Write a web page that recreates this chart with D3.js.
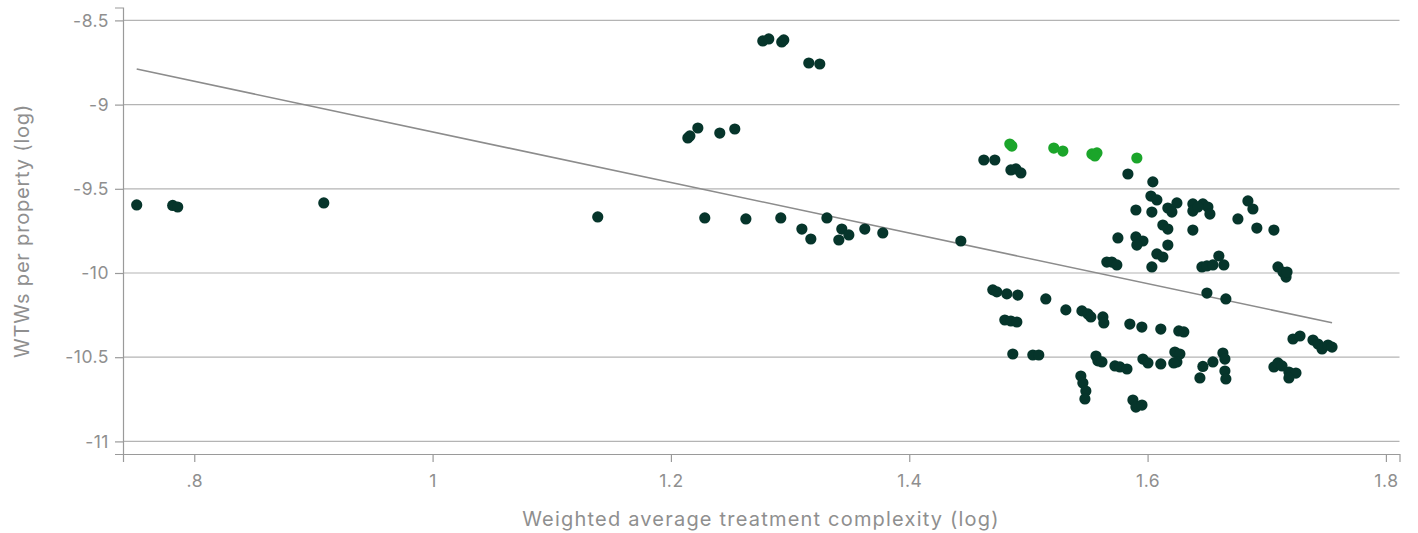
<!DOCTYPE html>
<html>
<head>
<meta charset="utf-8">
<script src="https://cdn.jsdelivr.net/npm/d3@7/dist/d3.min.js"></script>
<style>
  html, body { margin: 0; padding: 0; background: #ffffff; }
  svg { display: block; }
  text { font-family: "Inter", "Lato", "DejaVu Sans", sans-serif; fill: #8f8f8f; }
</style>
</head>
<body>
<svg id="chart" width="1418" height="533"></svg>
<script>
// Weighted average treatment complexity (log) per water treatment works group
const complexity = [
  0.7517, 0.7819, 0.7861, 0.9087, 1.1386,
  1.2771, 1.2821, 1.2930, 1.2947, 1.3157, 1.3249,
  1.2142, 1.2159, 1.2226, 1.2410, 1.2536,
  1.2284, 1.2629, 1.2922, 1.3099, 1.3174, 1.3309, 1.3434, 1.3409, 1.3493, 1.3627, 1.3778, 1.4433,
  1.4626, 1.4718, 1.4853, 1.4895, 1.4937,
  1.5835, 1.6044, 1.6028, 1.6078, 1.5902, 1.6036, 1.6170, 1.6246, 1.6204, 1.6380, 1.6380, 1.6464,
  1.6506, 1.6523, 1.6422, 1.6842, 1.6884, 1.6758, 1.6917, 1.7060, 1.6128, 1.6170, 1.6380,
  1.5751, 1.5902, 1.5961, 1.5910, 1.6170, 1.6078, 1.6128, 1.6598, 1.6640, 1.6036,
  1.5658, 1.5700, 1.5742, 1.6456, 1.6498, 1.6548, 1.7094, 1.7136, 1.7162, 1.7170, 1.6498, 1.6657,
  1.4701, 1.4735, 1.4819, 1.4911, 1.5146, 1.5314, 1.5449, 1.5499, 1.5524, 1.5625, 1.5633,
  1.5851, 1.5952, 1.6111, 1.6262, 1.6304, 1.4802, 1.4853, 1.4903, 1.4869, 1.5037, 1.5087,
  1.5567, 1.5583, 1.5617, 1.5726, 1.5768, 1.5827, 1.5961, 1.6003, 1.6111, 1.6229, 1.6271,
  1.6246, 1.6220, 1.6439, 1.6464, 1.5440, 1.5457, 1.5482, 1.5474, 1.5877, 1.5902, 1.5953,
  1.6548, 1.6632, 1.6649, 1.6649, 1.6657, 1.7220, 1.7279, 1.7388, 1.7430, 1.7464, 1.7514, 1.7548,
  1.7060, 1.7094, 1.7128, 1.7186, 1.7245, 1.7186
];

// WTWs per property (log), same order as complexity
const wtwsPerProperty = [
  -9.596, -9.599, -9.608, -9.584, -9.667,
  -8.622, -8.610, -8.628, -8.616, -8.753, -8.759,
  -9.198, -9.186, -9.139, -9.169, -9.145,
  -9.673, -9.679, -9.673, -9.739, -9.798, -9.673, -9.739, -9.804, -9.774, -9.739, -9.762, -9.810,
  -9.329, -9.329, -9.388, -9.382, -9.406,
  -9.412, -9.459, -9.543, -9.566, -9.626, -9.638, -9.614, -9.584, -9.638, -9.590, -9.632, -9.590,
  -9.608, -9.650, -9.608, -9.572, -9.620, -9.679, -9.733, -9.745, -9.715, -9.739, -9.745,
  -9.792, -9.786, -9.810, -9.834, -9.834, -9.887, -9.905, -9.899, -9.952, -9.964,
  -9.935, -9.935, -9.952, -9.964, -9.958, -9.952, -9.964, -9.994, -10.024, -9.994, -10.119, -10.154,
  -10.100, -10.112, -10.124, -10.131, -10.154, -10.219, -10.225, -10.243, -10.261, -10.261, -10.297,
  -10.303, -10.321, -10.333, -10.344, -10.350, -10.279, -10.285, -10.291, -10.481, -10.487, -10.487,
  -10.493, -10.522, -10.528, -10.552, -10.558, -10.570, -10.511, -10.534, -10.540, -10.469, -10.481,
  -10.528, -10.534, -10.623, -10.555, -10.612, -10.653, -10.701, -10.748, -10.754, -10.796, -10.784,
  -10.528, -10.475, -10.511, -10.582, -10.629, -10.392, -10.374, -10.398, -10.422, -10.451, -10.428, -10.440,
  -10.558, -10.534, -10.552, -10.588, -10.594, -10.623
];

// Highlighted group
const highlightComplexity = [1.4844, 1.4861, 1.5213, 1.5289, 1.5533, 1.5575, 1.5558, 1.5910];
const highlightWtws       = [-9.234, -9.246, -9.258, -9.276, -9.293, -9.287, -9.305, -9.317];

// Fitted linear trend: wtws = fitIntercept + fitSlope * complexity
const fitIntercept = -7.660;
const fitSlope = -1.502;

// Axis ticks
const xTicks = [0.8, 1, 1.2, 1.4, 1.6, 1.8];
const xTickLabels = [".8", "1", "1.2", "1.4", "1.6", "1.8"];
const yTicks = [-8.5, -9, -9.5, -10, -10.5, -11];
const yTickLabels = ["-8.5", "-9", "-9.5", "-10", "-10.5", "-11"];

const xTitle = "Weighted average treatment complexity (log)";
const yTitle = "WTWs per property (log)";

const width = 1418, height = 533;
const margin = { top: 7.5, right: 18.5, bottom: 79, left: 123 };
const innerW = width - margin.left - margin.right;
const innerH = height - margin.top - margin.bottom;

const svg = d3.select("#chart");
const g = svg.append("g").attr("transform", `translate(${margin.left},${margin.top})`);

const x = d3.scaleLinear().domain([0.7402, 1.8114]).range([0, innerW]);
const y = d3.scaleLinear().domain([-11.0748, -8.4234]).range([innerH, 0]);

// Horizontal grid lines
g.append("g")
  .selectAll("line")
  .data(yTicks)
  .join("line")
  .attr("x1", 0).attr("x2", innerW)
  .attr("y1", d => y(d)).attr("y2", d => y(d))
  .attr("stroke", "#b4b4b4")
  .attr("stroke-width", 1.2);

// Y axis
const yAxis = g.append("g")
  .call(d3.axisLeft(y).tickValues(yTicks).tickFormat((d, i) => yTickLabels[i]).tickSize(8).tickPadding(6));
yAxis.select(".domain").attr("stroke", "#9a9a9a").attr("stroke-width", 1.2);
yAxis.selectAll(".tick line").attr("stroke", "#9a9a9a").attr("stroke-width", 1.2);
yAxis.selectAll(".tick text").attr("font-size", 17.5).attr("letter-spacing", 0.5).attr("fill", "#8f8f8f");

// X axis
const xAxis = g.append("g")
  .attr("transform", `translate(0,${innerH})`)
  .call(d3.axisBottom(x).tickValues(xTicks).tickFormat((d, i) => xTickLabels[i]).tickSize(8).tickPadding(13));
xAxis.select(".domain").attr("stroke", "#9a9a9a").attr("stroke-width", 1.2);
xAxis.selectAll(".tick line").attr("stroke", "#9a9a9a").attr("stroke-width", 1.2);
xAxis.selectAll(".tick text").attr("font-size", 17.5).attr("letter-spacing", 0.5).attr("fill", "#8f8f8f");

// Axis titles
svg.append("text")
  .attr("x", 761).attr("y", 526)
  .attr("text-anchor", "middle")
  .attr("font-size", 20)
  .attr("letter-spacing", 1.2)
  .text(xTitle);

svg.append("text")
  .attr("transform", "translate(29,231) rotate(-90)")
  .attr("text-anchor", "middle")
  .attr("font-size", 20)
  .attr("letter-spacing", 0.8)
  .text(yTitle);

// Trend line across the observed complexity range
const allX = complexity.concat(highlightComplexity);
const xMin = d3.min(allX), xMax = d3.max(allX);
g.append("line")
  .attr("x1", x(xMin)).attr("y1", y(fitIntercept + fitSlope * xMin))
  .attr("x2", x(xMax)).attr("y2", y(fitIntercept + fitSlope * xMax))
  .attr("stroke", "#8c8c8c")
  .attr("stroke-width", 1.6);

// Points
const pts = complexity.map((c, i) => ({ c, w: wtwsPerProperty[i] }));
g.append("g")
  .selectAll("circle")
  .data(pts)
  .join("circle")
  .attr("cx", d => x(d.c))
  .attr("cy", d => y(d.w))
  .attr("r", 5.6)
  .attr("fill", "#06352b");

const hpts = highlightComplexity.map((c, i) => ({ c, w: highlightWtws[i] }));
g.append("g")
  .selectAll("circle")
  .data(hpts)
  .join("circle")
  .attr("cx", d => x(d.c))
  .attr("cy", d => y(d.w))
  .attr("r", 5.6)
  .attr("fill", "#1ba52a");
</script>
</body>
</html>
